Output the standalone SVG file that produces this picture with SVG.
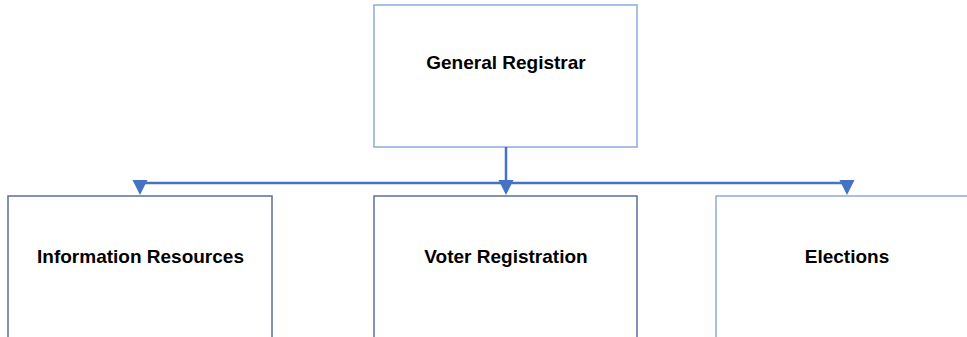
<svg xmlns="http://www.w3.org/2000/svg" width="967" height="337" viewBox="0 0 967 337">
<style>
.box{fill:#fff;stroke-width:1.5}
.light{stroke:#8eaadb}
.dark{stroke:#5b6e9c}
.lbl{font-family:"Liberation Sans",Arial,sans-serif;font-weight:bold;font-size:19px;fill:#000;text-anchor:middle}
.con{stroke:#4472c4;stroke-width:2.5;fill:none}
</style>
<rect width="967" height="337" fill="#fff"/>
<g id="general-registrar">
<rect class="box light" x="374" y="5" width="263" height="142"/>
<text class="lbl" x="506" y="69">General Registrar</text>
</g>
<g id="information-resources">
<rect class="box dark" x="8" y="196" width="264" height="145"/>
<text class="lbl" x="140.5" y="263">Information Resources</text>
</g>
<g id="voter-registration">
<rect class="box dark" x="374" y="196" width="263" height="145"/>
<text class="lbl" x="506" y="263">Voter Registration</text>
</g>
<g id="elections">
<rect class="box light" x="716" y="196" width="260" height="145"/>
<text class="lbl" x="847" y="263">Elections</text>
</g>
<g id="connectors">
<path class="con" d="M506,147 V183"/>
<path class="con" d="M140,183 H847"/>
<path d="M132.5,180 L147.5,180 L140,195 Z" fill="#4472c4"/>
<path d="M498.5,180 L513.5,180 L506,195 Z" fill="#4472c4"/>
<path d="M839.5,180 L854.5,180 L847,195 Z" fill="#4472c4"/>
</g>
</svg>
